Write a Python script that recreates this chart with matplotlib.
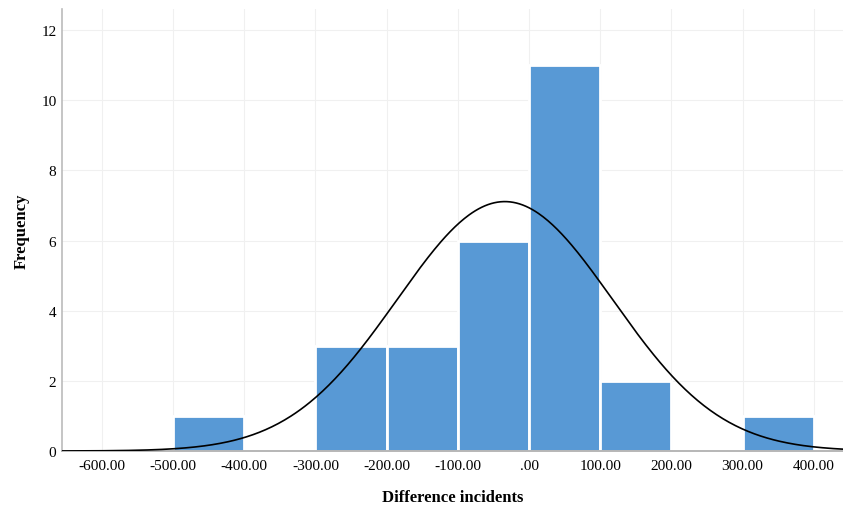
import numpy as np
import matplotlib.pyplot as plt

plt.rcParams['font.family'] = ['Liberation Serif', 'DejaVu Serif']

# histogram bins and counts
bin_edges = [-500, -400, -300, -200, -100, 0, 100, 200, 300, 400]
counts = [1, 0, 3, 3, 6, 11, 2, 0, 1]
xticks = [-600, -500, -400, -300, -200, -100, 0, 100, 200, 300, 400]
xtick_labels = ['-600.00', '-500.00', '-400.00', '-300.00', '-200.00', '-100.00',
                '.00', '100.00', '200.00', '300.00', '400.00']
yticks = [0, 2, 4, 6, 8, 10, 12]

# normal curve parameters
mean = -34.0
sd = 151.5
n = sum(counts)
bin_width = 100

fig = plt.figure(figsize=(8.43, 5.06), dpi=100)
ax = fig.add_axes([62 / 843, 54 / 506, 1 - 62 / 843, (452 - 10) / 506])

lefts = bin_edges[:-1]
ax.bar(lefts, counts, width=bin_width, align='edge', color='#5899d5',
       edgecolor='white', linewidth=2.0, zorder=2)

xs = np.linspace(-660, 445, 500)
ys = n * bin_width / (sd * np.sqrt(2 * np.pi)) * np.exp(-0.5 * ((xs - mean) / sd) ** 2)
ax.plot(xs, ys, color='black', linewidth=1.2, zorder=3)

ax.set_xlim(-656, 441)
ax.set_ylim(0, 12.6)
ax.set_xticks(xticks)
ax.set_xticklabels(xtick_labels)
ax.set_yticks(yticks)
ax.tick_params(axis='x', length=0, labelsize=11, pad=6)
ax.tick_params(axis='y', length=0, labelsize=11, pad=4)
ax.grid(True, color='#f0f0f0', linewidth=0.8, zorder=0)
ax.set_axisbelow(True)

for side in ['top', 'right']:
    ax.spines[side].set_visible(False)
ax.spines['left'].set_color('#bbbbbb')
ax.spines['bottom'].set_color('#aaaaaa')
for side in ['left', 'bottom']:
    ax.spines[side].set_linewidth(1.2)

ax.set_xlabel('Difference incidents', fontsize=12, fontweight='bold', labelpad=12)
ax.set_ylabel('Frequency', fontsize=12, fontweight='bold', labelpad=8)

fig.savefig('out.png', dpi=100)
